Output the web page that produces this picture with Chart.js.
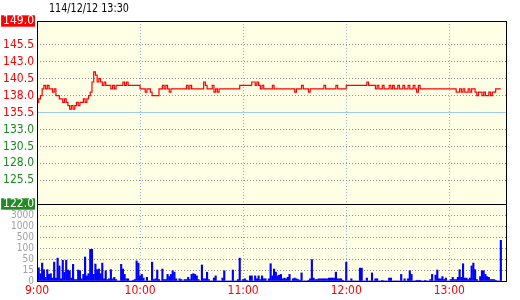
<!DOCTYPE html>
<html>
<head>
<meta charset="utf-8">
<script src="https://cdn.jsdelivr.net/npm/chart.js@4"></script>
<style>
  body { margin: 0; background: #fff; }
  #wrap { position: relative; width: 520px; height: 300px; }
  #stamp { position: absolute; left: 49px; top: 0; line-height: 16px; color: #000;
           font: 13px 'DejaVu Sans Condensed', sans-serif;
           transform: scaleX(0.82); transform-origin: 0 0; }
</style>
</head>
<body>
<div id="wrap">
  <canvas id="myChart"></canvas>
  <div id="stamp">114/12/12 13:30</div>
</div>
<script>
// one value per minute from 9:00 (index 0) to 13:30 (index 270)
const prices = [
  137.0, 137.5, 138.0, 139.0, 139.5, 139.0, 139.5, 139.0, 139.0, 138.5,
  139.0, 138.0, 138.0, 137.5, 137.5, 137.0, 137.5, 137.0, 136.5, 136.0,
  136.5, 136.0, 136.5, 137.0, 136.5, 137.0, 137.0, 137.5, 137.0, 137.5,
  138.0, 138.5, 140.0, 141.5, 141.0, 140.0, 140.5, 140.0, 139.5, 140.0,
  139.5, 139.5, 139.5, 139.0, 139.5, 139.0, 139.5, 139.5, 139.5, 139.5,
  140.0, 139.5, 140.0, 139.5, 139.5, 139.5, 139.5, 139.5, 139.5, 139.5,
  139.0, 139.0, 139.0, 138.5, 139.0, 139.0, 138.5, 138.0, 138.0, 138.0,
  138.0, 139.0, 139.0, 139.5, 139.0, 139.5, 139.0, 138.5, 139.0, 139.0,
  139.0, 139.0, 139.0, 139.0, 139.0, 139.0, 139.0, 139.5, 139.0, 139.5,
  139.0, 139.0, 139.0, 139.0, 139.0, 139.0, 139.0, 140.0, 139.5, 139.0,
  139.0, 139.0, 139.5, 138.5, 139.0, 138.5, 139.0, 139.0, 139.0, 139.0,
  139.0, 139.0, 139.0, 139.0, 139.0, 139.0, 139.0, 139.0, 139.5, 139.5,
  139.5, 139.5, 139.5, 139.5, 139.5, 140.0, 140.0, 139.5, 140.0, 139.5,
  139.0, 139.5, 139.0, 139.0, 139.0, 139.0, 139.0, 139.5, 139.0, 139.0,
  139.0, 139.0, 139.0, 139.0, 139.0, 139.0, 139.0, 139.0, 139.0, 139.0,
  138.5, 139.0, 139.0, 139.0, 139.5, 139.0, 139.0, 139.0, 138.5, 139.0,
  139.0, 139.0, 139.0, 139.0, 139.0, 139.0, 139.0, 139.5, 139.0, 139.0,
  139.0, 139.0, 139.0, 139.0, 139.5, 139.0, 139.0, 139.0, 139.0, 139.0,
  139.5, 139.5, 139.5, 139.5, 139.5, 139.5, 139.5, 139.5, 139.5, 139.5,
  139.5, 139.5, 140.0, 139.5, 139.5, 139.5, 139.5, 139.0, 139.5, 139.0,
  139.0, 139.5, 139.0, 139.0, 139.0, 139.5, 139.0, 139.5, 139.0, 139.0,
  139.5, 139.0, 139.0, 139.5, 139.0, 139.0, 139.5, 139.0, 139.0, 139.5,
  139.0, 138.5, 139.5, 139.0, 139.0, 139.0, 139.0, 139.0, 139.0, 139.0,
  139.0, 139.0, 139.0, 139.0, 139.0, 139.0, 139.0, 139.0, 139.0, 139.0,
  139.0, 139.0, 139.0, 139.0, 138.5, 138.5, 139.0, 138.5, 139.0, 138.5,
  138.5, 139.0, 138.5, 139.0, 139.0, 138.5, 138.0, 138.5, 138.5, 138.0,
  138.5, 138.0, 138.0, 138.5, 138.0, 138.5, 138.5, 139.0, 139.0, 139.0,
  139.0
];
const volumes = [
  24, 22, 10, 37, 16, 5, 16, 9, 10, 4,
  40, 4, 54, 28, 3, 46, 12, 46, 15, 14,
  4, 33, 2, 2, 15, 14, 3, 9, 59, 7,
  10, 94, 94, 9, 34, 16, 18, 10, 37, 3,
  14, 2, 3, 16, 3, 5, 2, 0, 0, 33,
  18, 9, 3, 3, 0, 0, 1, 2, 44, 37,
  7, 9, 4, 0, 5, 0, 0, 40, 2, 3,
  15, 2, 0, 18, 2, 2, 9, 6, 9, 14,
  12, 3, 0, 3, 2, 0, 2, 2, 5, 2,
  9, 10, 9, 7, 2, 0, 31, 3, 3, 12,
  2, 0, 0, 4, 7, 0, 0, 0, 4, 14,
  0, 0, 0, 0, 15, 0, 0, 2, 54, 0,
  2, 3, 1, 0, 7, 7, 0, 7, 3, 7,
  2, 7, 3, 3, 0, 3, 35, 7, 18, 12,
  7, 8, 9, 3, 4, 3, 5, 9, 0, 3,
  4, 3, 2, 1, 11, 0, 0, 0, 1, 3,
  48, 4, 2, 2, 3, 3, 3, 3, 3, 3,
  4, 4, 4, 4, 12, 3, 3, 3, 1, 0,
  40, 0, 0, 3, 0, 0, 0, 0, 21, 21,
  0, 0, 4, 0, 0, 11, 0, 3, 3, 0,
  0, 1, 0, 0, 0, 4, 4, 0, 0, 0,
  0, 0, 9, 0, 3, 0, 3, 14, 9, 0,
  0, 1, 1, 1, 0, 0, 1, 0, 0, 2,
  9, 0, 8, 15, 3, 3, 6, 2, 4, 0,
  0, 2, 5, 2, 2, 5, 16, 5, 35, 4,
  4, 2, 4, 28, 37, 16, 2, 0, 6, 14,
  14, 9, 6, 5, 2, 2, 2, 1, 0, 0,
  380
];
const refPrice = 135.5;
const priceTicks = [122.0, 125.5, 128.0, 130.5, 133.0, 135.5, 138.0, 140.5, 143.0, 145.5, 149.0];
const volTicks = [0, 15, 50, 100, 500, 1000, 3000];
const timeTicks = [0, 60, 120, 180, 240];
const timeLabels = ['9:00', '10:00', '11:00', '12:00', '13:00'];
const lastMinute = 273;

const FONT = "'DejaVu Sans Condensed', sans-serif";

// volume axis is stepped: each tick label gets the same height
function volPos(v) {
  for (let i = 0; i < volTicks.length - 1; i++) {
    if (v <= volTicks[i + 1]) return i + (v - volTicks[i]) / (volTicks[i + 1] - volTicks[i]);
  }
  return volTicks.length - 1;
}

const frame = {
  id: 'frame',
  beforeDraw(chart) {
    const { ctx, chartArea: a } = chart;
    ctx.save();
    ctx.fillStyle = '#ffffe6';
    ctx.fillRect(a.left, a.top, a.right - a.left, a.bottom - a.top);
    ctx.restore();
  },
  afterDraw(chart) {
    const { ctx, chartArea: a } = chart;
    const sep = Math.round(chart.scales.yP.bottom) + 0.5;
    ctx.save();
    ctx.strokeStyle = '#000';
    ctx.lineWidth = 1;
    ctx.strokeRect(Math.round(a.left) + 0.5, Math.round(a.top) + 0.5,
      Math.round(a.right - a.left), Math.round(a.bottom - a.top));
    ctx.beginPath();
    ctx.moveTo(a.left, sep);
    ctx.lineTo(a.right, sep);
    ctx.stroke();
    ctx.restore();
  }
};

const clear = 'rgba(0,0,0,0)';
const gridGray = '#8e8e8e';

document.addEventListener('DOMContentLoaded', function () {
  const ctx = document.getElementById('myChart').getContext('2d');
  new Chart(ctx, {
    type: 'line',
    data: {
      datasets: [{
        type: 'line',
        data: prices.map((p, i) => ({ x: i, y: p })),
        yAxisID: 'yP',
        borderColor: '#ff0000',
        borderWidth: 1.2,
        pointRadius: 0,
        stepped: true,
        order: 1
      }, {
        type: 'line',
        data: [{ x: 0, y: refPrice }, { x: lastMinute, y: refPrice }],
        yAxisID: 'yP',
        borderColor: '#9ccbee',
        borderWidth: 1,
        pointRadius: 0,
        order: 3
      }, {
        type: 'bar',
        data: volumes.map((v, i) => ({ x: i, y: volPos(v) })),
        yAxisID: 'yV',
        backgroundColor: '#0000ff',
        barThickness: 1.5,
        order: 2
      }]
    },
    options: {
      responsive: true,
      maintainAspectRatio: false,
      animation: false,
      events: [],
      layout: { padding: { top: 21, right: 14, bottom: 0, left: 0 } },
      plugins: { legend: { display: false }, tooltip: { enabled: false } },
      scales: {
        x: {
          type: 'linear',
          min: 0,
          max: lastMinute,
          offset: false,
          grid: {
            offset: false,
            drawTicks: false,
            color: c => (c.tick && c.tick.value > 0) ? '#8ab8dc' : clear
          },
          border: { display: false, dash: [1, 2] },
          afterBuildTicks: s => { s.ticks = timeTicks.map(v => ({ value: v })); },
          afterFit: s => { s.height = 19; },
          ticks: {
            color: '#ff0000',
            font: { family: FONT, size: 12 },
            padding: 3,
            maxRotation: 0,
            autoSkip: false,
            callback: (v, i) => timeLabels[i]
          }
        },
        yV: {
          type: 'linear',
          position: 'left',
          stack: 'left',
          stackWeight: 77,
          min: 0,
          max: 7,
          afterBuildTicks: s => { s.ticks = volTicks.map((v, i) => ({ value: i })); },
          afterFit: s => { s.width = 37; },
          grid: { drawTicks: false, color: c => (c.tick && c.tick.value > 0) ? gridGray : clear },
          border: { display: false, dash: [1, 2] },
          ticks: {
            padding: 3,
            color: '#a0a0a0',
            autoSkip: false,
            font: { family: FONT, size: 10 },
            callback: (v, i) => String(volTicks[i])
          }
        },
        yP: {
          type: 'linear',
          position: 'left',
          stack: 'left',
          stackWeight: 183,
          min: 122,
          max: 149,
          afterBuildTicks: s => { s.ticks = priceTicks.map(v => ({ value: v })); },
          afterFit: s => { s.width = 37; },
          grid: {
            drawTicks: false,
            color: c => {
              const v = c.tick && c.tick.value;
              return (v === 149 || v === 122 || v === refPrice) ? clear : gridGray;
            }
          },
          border: { display: false, dash: [1, 2] },
          ticks: {
            padding: 3,
            autoSkip: false,
            font: { family: FONT, size: 12, lineHeight: 0.95 },
            color: c => {
              const v = c.tick.value;
              if (v === 149 || v === 122) return '#ffffff';
              return v >= refPrice ? '#ff0000' : '#1a8a1a';
            },
            showLabelBackdrop: true,
            backdropColor: c => {
              const v = c.tick.value;
              if (v === 149) return '#ff0000';
              if (v === 122) return '#228b22';
              return clear;
            },
            backdropPadding: { left: 2, right: 1, top: 0, bottom: 0 },
            callback: v => v.toFixed(1)
          }
        }
      }
    },
    plugins: [frame]
  });
});
</script>
</body>
</html>
